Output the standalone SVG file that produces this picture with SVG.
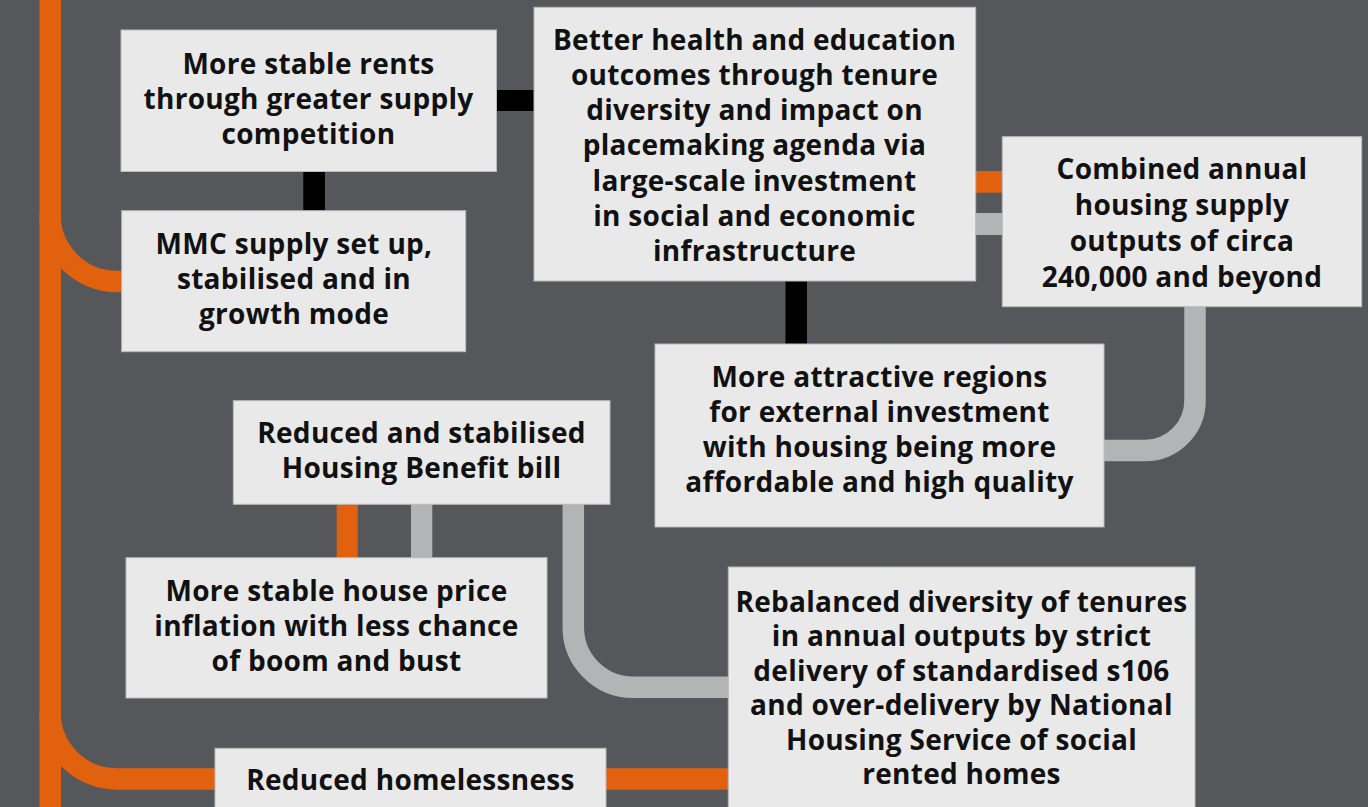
<svg xmlns="http://www.w3.org/2000/svg" width="1368" height="807" viewBox="0 0 1368 807">
  <style>
    .box { fill: #e9e9e9; stroke: #b9babc; stroke-width: 1; }
    .lbl { font-family: "Open Sans", "Noto Sans", sans-serif; font-weight: 700; font-size: 28px; letter-spacing: 0.3px; fill: #111; text-anchor: middle; dominant-baseline: central; }
    .or { stroke: #e2610f; fill: none; stroke-width: 21.5; }
    .gr { stroke: #b3b4b6; fill: none; stroke-width: 21.5; }
  </style>
  <rect width="1368" height="807" fill="#55575b"/>

  <g id="connectors">
    <!-- orange trunk and branches -->
    <rect x="39.5" y="0" width="21.5" height="807" fill="#e2610f"/>
    <path class="or" d="M50,214 A67,67 0 0 0 117,281.5 H125"/>
    <path class="or" d="M50,712 A67,67 0 0 0 117,779 H732"/>
    <rect x="336.7" y="500" width="21" height="62" fill="#e2610f"/>
    <rect x="972" y="171" width="34" height="21.7" fill="#e2610f"/>
    <!-- black links -->
    <rect x="493" y="90" width="44" height="21" fill="#000"/>
    <rect x="303.3" y="168" width="21.7" height="46" fill="#000"/>
    <rect x="785.5" y="277" width="21.5" height="70" fill="#000"/>
    <!-- grey links -->
    <rect x="972" y="213" width="34" height="22" fill="#b3b4b6"/>
    <rect x="411" y="500" width="21.3" height="62" fill="#b3b4b6"/>
    <path class="gr" d="M1195,300 V400 A50,50 0 0 1 1145,450.5 H1100"/>
    <path class="gr" d="M573.3,500 V627 A60,60 0 0 0 633.3,687.3 H732"/>
  </g>

  <g id="n-rents">
    <rect class="box" x="121" y="30" width="375.5" height="141.5"/>
    <text class="lbl" x="308.5" y="62.5">More stable rents</text>
    <text class="lbl" x="308.5" y="97.5">through greater supply</text>
    <text class="lbl" x="308.5" y="132.5">competition</text>
  </g>

  <g id="n-mmc">
    <rect class="box" x="121.7" y="210.7" width="344" height="141"/>
    <text class="lbl" x="294" y="243">MMC supply set up,</text>
    <text class="lbl" x="294" y="278">stabilised and in</text>
    <text class="lbl" x="294" y="313">growth mode</text>
  </g>

  <g id="n-health">
    <rect class="box" x="534" y="7.3" width="441.7" height="273.7"/>
    <text class="lbl" x="754.5" y="38.5">Better health and education</text>
    <text class="lbl" x="754.5" y="73.8">outcomes through tenure</text>
    <text class="lbl" x="754.5" y="109.1">diversity and impact on</text>
    <text class="lbl" x="754.5" y="144.4">placemaking agenda via</text>
    <text class="lbl" x="754.5" y="179.7">large-scale investment</text>
    <text class="lbl" x="754.5" y="215">in social and economic</text>
    <text class="lbl" x="754.5" y="250.3">infrastructure</text>
  </g>

  <g id="n-supply">
    <rect class="box" x="1002.3" y="136.7" width="359.4" height="170"/>
    <text class="lbl" x="1182" y="168">Combined annual</text>
    <text class="lbl" x="1182" y="204">housing supply</text>
    <text class="lbl" x="1182" y="240">outputs of circa</text>
    <text class="lbl" x="1182" y="276">240,000 and beyond</text>
  </g>

  <g id="n-regions">
    <rect class="box" x="655" y="344" width="449" height="183"/>
    <text class="lbl" x="879.5" y="376">More attractive regions</text>
    <text class="lbl" x="879.5" y="411">for external investment</text>
    <text class="lbl" x="879.5" y="446">with housing being more</text>
    <text class="lbl" x="879.5" y="481">affordable and high quality</text>
  </g>

  <g id="n-benefit">
    <rect class="box" x="233.3" y="400.7" width="376.7" height="103.6"/>
    <text class="lbl" x="421.5" y="432">Reduced and stabilised</text>
    <text class="lbl" x="421.5" y="467">Housing Benefit bill</text>
  </g>

  <g id="n-prices">
    <rect class="box" x="126" y="557.7" width="421" height="140.3"/>
    <text class="lbl" x="336.5" y="590">More stable house price</text>
    <text class="lbl" x="336.5" y="625">inflation with less chance</text>
    <text class="lbl" x="336.5" y="660">of boom and bust</text>
  </g>

  <g id="n-tenures">
    <rect class="box" x="728.3" y="567" width="466.7" height="250"/>
    <text class="lbl" x="961.5" y="601">Rebalanced diversity of tenures</text>
    <text class="lbl" x="961.5" y="635.4">in annual outputs by strict</text>
    <text class="lbl" x="961.5" y="669.8">delivery of standardised s106</text>
    <text class="lbl" x="961.5" y="704.2">and over-delivery by National</text>
    <text class="lbl" x="961.5" y="738.6">Housing Service of social</text>
    <text class="lbl" x="961.5" y="773">rented homes</text>
  </g>

  <g id="n-homeless">
    <rect class="box" x="215" y="748.3" width="391" height="70"/>
    <text class="lbl" x="410.5" y="779">Reduced homelessness</text>
  </g>
</svg>
